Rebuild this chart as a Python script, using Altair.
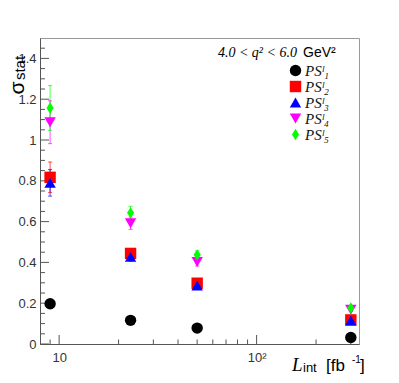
import altair as alt
import pandas as pd

# ---- data ----
lumi = [9, 23, 50, 300]
series = ["PSˡ₁", "PSˡ₂", "PSˡ₃", "PSˡ₄", "PSˡ₅"]
ps1 = [0.197, 0.116, 0.078, 0.032]
ps2 = [0.817, 0.444, 0.298, 0.118]
ps3 = [0.790, 0.427, 0.287, 0.115]
ps4 = [1.087, 0.592, 0.402, 0.168]
ps5 = [1.157, 0.643, 0.437, 0.177]
err1 = [0.006, 0.004, 0.003, 0.002]
err2 = [0.075, 0.020, 0.012, 0.005]
err3 = [0.065, 0.020, 0.012, 0.005]
err4 = [0.105, 0.030, 0.020, 0.008]
err5 = [0.110, 0.032, 0.020, 0.008]
colors = ["#000000", "#ff0000", "#0000ff", "#ff00ff", "#00ff00"]
shapes = ["circle", "square", "triangle-up", "triangle-down", "M0,-1L0.62,0L0,1L-0.62,0Z"]

y_major = [0, 0.2, 0.4, 0.6, 0.8, 1.0, 1.2, 1.4]
y_minor = [0.05, 0.1, 0.15, 0.25, 0.3, 0.35, 0.45, 0.5, 0.55, 0.65, 0.7, 0.75,
           0.85, 0.9, 0.95, 1.05, 1.1, 1.15, 1.25, 1.3, 1.35, 1.45]
x_major = [10, 100]
x_minor = [9, 20, 30, 40, 50, 60, 70, 80, 90, 200, 300]

W, H = 319, 306
rows = []
for i, (s, vals, errs) in enumerate(zip(series, [ps1, ps2, ps3, ps4, ps5],
                                          [err1, err2, err3, err4, err5])):
    for x, v, e in zip(lumi, vals, errs):
        rows.append({"series": s, "order": i, "L": x, "sigma": v,
                     "lo": v - e, "hi": v + e})
df = pd.DataFrame(rows)

xscale = alt.Scale(type="log", domain=[8, 330], nice=False)
yscale = alt.Scale(domain=[0, 1.5], nice=False, zero=False)
cscale = alt.Scale(domain=series, range=colors)
sscale = alt.Scale(domain=series, range=shapes)

xaxis = alt.Axis(values=x_major, ticks=False, grid=False, title=None,
                 labelExpr="datum.value == 10 ? '10' : '10²'",
                 labelFont="Liberation Sans", labelFontSize=13, labelColor="#333",
                 labelPadding=7, domainColor="#555")
yaxis = alt.Axis(values=y_major, ticks=False, grid=False, title=None,
                 format="~g", labelFont="Liberation Sans", labelFontSize=13,
                 labelColor="#333", labelPadding=4, domainColor="#555")

base = alt.Chart(df)

errbars = base.mark_rule(strokeWidth=1, opacity=0.7).encode(
    x=alt.X("L:Q", scale=xscale, axis=xaxis),
    y=alt.Y("lo:Q", scale=yscale, axis=yaxis),
    y2="hi:Q",
    color=alt.Color("series:N", scale=cscale, legend=None),
)
caps_lo = base.mark_tick(orient="horizontal", size=4, thickness=1, opacity=0.7).encode(
    x=alt.X("L:Q", scale=xscale), y=alt.Y("lo:Q", scale=yscale),
    color=alt.Color("series:N", scale=cscale, legend=None))
caps_hi = base.mark_tick(orient="horizontal", size=4, thickness=1, opacity=0.7).encode(
    x=alt.X("L:Q", scale=xscale), y=alt.Y("hi:Q", scale=yscale),
    color=alt.Color("series:N", scale=cscale, legend=None))

legend = alt.Legend(
    title=None, orient="none", legendX=248, legendY=25, padding=0,
    labelFont="Liberation Serif", labelFontStyle="italic", labelFontSize=15,
    labelColor="#111", symbolSize=130, rowPadding=-2, labelOffset=2,
    labelLimit=0, symbolStrokeWidth=0)

points = base.mark_point(filled=True, opacity=1, size=130).encode(
    x=alt.X("L:Q", scale=xscale),
    y=alt.Y("sigma:Q", scale=yscale),
    color=alt.Color("series:N", scale=cscale, legend=legend),
    shape=alt.Shape("series:N", scale=sscale, legend=legend),
    order=alt.Order("order:Q"),
)

# inward tick marks
ymaj = alt.Chart(pd.DataFrame({"v": y_major})).mark_rule(color="#555").encode(
    y=alt.Y("v:Q", scale=yscale), x=alt.value(0), x2=alt.value(9))
ymin = alt.Chart(pd.DataFrame({"v": y_minor})).mark_rule(color="#555").encode(
    y=alt.Y("v:Q", scale=yscale), x=alt.value(0), x2=alt.value(5))
xmaj = alt.Chart(pd.DataFrame({"v": x_major})).mark_rule(color="#555").encode(
    x=alt.X("v:Q", scale=xscale), y=alt.value(H), y2=alt.value(H - 9))
xmin = alt.Chart(pd.DataFrame({"v": x_minor})).mark_rule(color="#555").encode(
    x=alt.X("v:Q", scale=xscale), y=alt.value(H), y2=alt.value(H - 4.5))

def txt(t, x, y, size, font="Liberation Sans", style="normal", align="left",
        angle=0, baseline="alphabetic"):
    return alt.Chart(pd.DataFrame({"t": [t]})).mark_text(
        font=font, fontSize=size, fontStyle=style, align=align, angle=angle,
        baseline=baseline, color="#000").encode(
        text="t:N", x=alt.value(x), y=alt.value(y))

labels = [
    txt("4.0 < q² < 6.0", 257, 19, 14, font="Liberation Serif", style="italic", align="right"),
    txt("GeV²", 263, 19, 14),
    txt("L", 252, H + 27, 19, font="Liberation Serif", style="italic"),
    txt("int", 263, H + 28, 13),
    txt("[fb", 286, H + 27, 17),
    txt("-1", 312, H + 19, 10),
    txt("]", 320, H + 27, 17),
    txt("σ", -16, 50, 21, angle=270, align="center"),
    txt("stat", -15, 30, 15, angle=270, align="center"),
]

chart = alt.layer(ymin, ymaj, xmin, xmaj, errbars, caps_lo, caps_hi, points, *labels).properties(
    width=W, height=H,
    autosize=alt.AutoSizeParams(type="none"),
    padding={"left": 32, "top": 30, "right": 32, "bottom": 31},
).configure_view(stroke="#999", strokeWidth=1).resolve_legend(
    color="independent", shape="independent")

chart.save("out.html", embed_options={"renderer": "svg", "actions": False})
